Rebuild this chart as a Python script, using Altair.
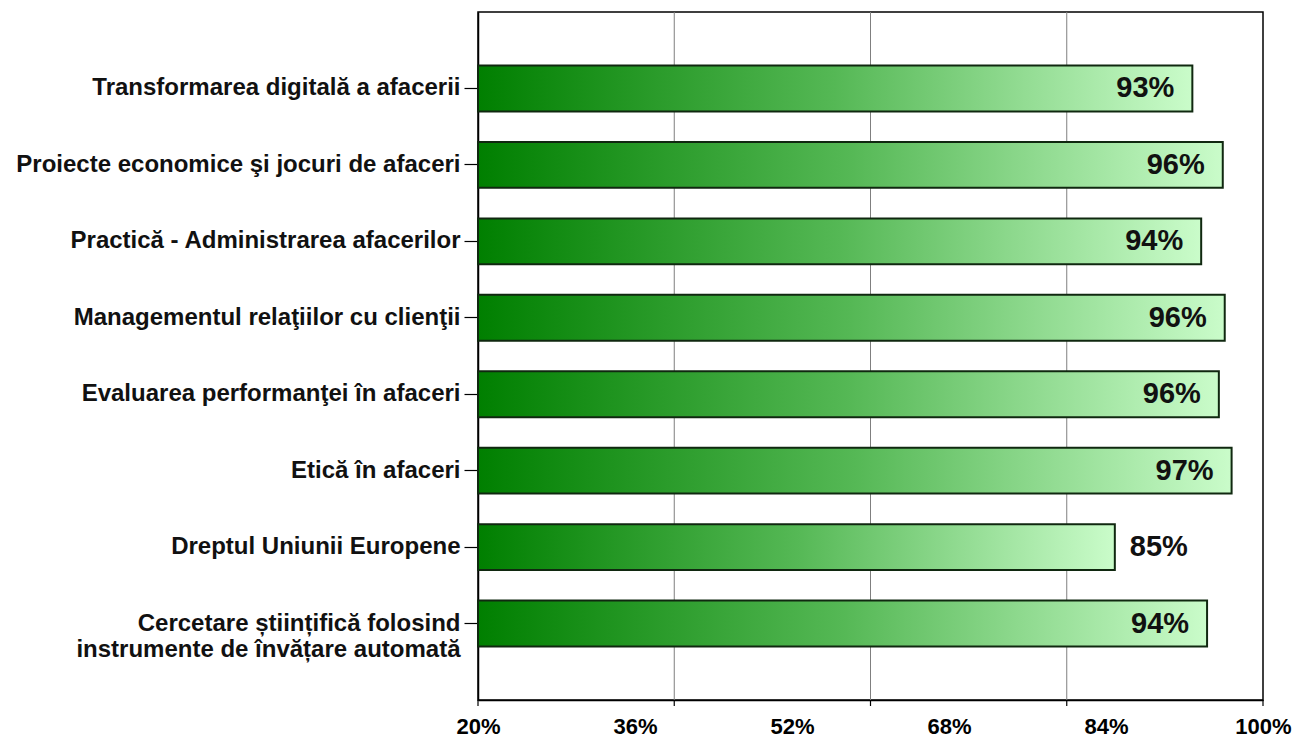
import altair as alt
import pandas as pd

categories = [
    "Transformarea digitală a afacerii",
    "Proiecte economice şi jocuri de afaceri",
    "Practică - Administrarea afacerilor",
    "Managementul relaţiilor cu clienţii",
    "Evaluarea performanţei în afaceri",
    "Etică în afaceri",
    "Dreptul Uniunii Europene",
    "Cercetare științifică folosind|instrumente de învățare automată",
]
values = [92.8, 95.9, 93.7, 96.1, 95.5, 96.8, 84.9, 94.3]
tick_labels = [20, 36, 52, 68, 84, 100]
grid_values = [40, 60, 80]
tick_marks = [20, 40, 60, 80, 100]

W, H = 785, 688
FONT = "Liberation Sans"

df = pd.DataFrame({"cat": categories, "value": values})
grid_df = pd.DataFrame({"value": grid_values})
tick_df = pd.DataFrame({"value": tick_marks})

xscale = alt.Scale(domain=[20, 100], nice=False, zero=False)
yscale = alt.Scale(domain=categories, paddingInner=0.4, paddingOuter=0.7)

x_axis = alt.Axis(
    values=tick_labels,
    title=None,
    grid=False,
    ticks=False,
    labelFlush=False,
    labelExpr="datum.value + '%'",
    labelFont=FONT,
    labelFontSize=22,
    labelFontWeight="bold",
    labelColor="black",
    labelPadding=16,
    domainColor="black",
    domainWidth=1.5,
)

y_axis = alt.Axis(
    title=None,
    labelExpr="split(datum.label, '|')",
    labelFont=FONT,
    labelFontSize=24,
    labelFontWeight="bold",
    labelColor="#111111",
    labelLimit=600,
    labelLineHeight=26,
    labelPadding=4,
    tickSize=14,
    tickColor="black",
    tickWidth=1.2,
    domainColor="black",
    domainWidth=1.5,
)

gradient = alt.LinearGradient(
    gradient="linear",
    stops=[
        alt.GradientStop(color="#007F00", offset=0),
        alt.GradientStop(color="#55B855", offset=0.5),
        alt.GradientStop(color="#CAFCCA", offset=1),
    ],
    x1=0, x2=1, y1=0, y2=0,
)

grid = alt.Chart(grid_df).mark_rule(color="#7f7f7f", strokeWidth=1).encode(
    x=alt.X("value:Q", scale=xscale, axis=x_axis),
    y=alt.value(0),
    y2=alt.value(H),
)

ticks = alt.Chart(tick_df).mark_rule(color="black", strokeWidth=1.2).encode(
    x=alt.X("value:Q", scale=xscale, axis=x_axis),
    y=alt.value(H),
    y2=alt.value(H + 6),
)

bars = alt.Chart(df).mark_bar(fill=gradient, stroke="#102810", strokeWidth=2).encode(
    x=alt.X("value:Q", scale=xscale, axis=x_axis),
    x2=alt.datum(20),
    y=alt.Y("cat:N", scale=yscale, sort=categories, axis=y_axis),
)

base_text = alt.Chart(df).transform_calculate(
    label="format(datum.value, '.0f') + '%'"
)

inside = base_text.transform_filter("datum.value >= 90").mark_text(
    align="right", baseline="middle", dx=-18, font=FONT, fontSize=29,
    fontWeight="bold", color="#111111"
).encode(
    x=alt.X("value:Q", scale=xscale, axis=x_axis),
    y=alt.Y("cat:N", scale=yscale, sort=categories, axis=y_axis),
    text="label:N",
)

outside = base_text.transform_filter("datum.value < 90").mark_text(
    align="left", baseline="middle", dx=15, font=FONT, fontSize=29,
    fontWeight="bold", color="#111111"
).encode(
    x=alt.X("value:Q", scale=xscale, axis=x_axis),
    y=alt.Y("cat:N", scale=yscale, sort=categories, axis=y_axis),
    text="label:N",
)

chart = alt.layer(grid, ticks, bars, inside, outside).properties(
    width=W,
    height=H,
    autosize=alt.AutoSizeParams(type="none"),
    padding={"left": 470, "top": 4, "right": 30, "bottom": 42},
).configure(background="white").configure_view(stroke="black", strokeWidth=1.5)

chart.save("out.html", embed_options={"renderer": "svg", "actions": False})
